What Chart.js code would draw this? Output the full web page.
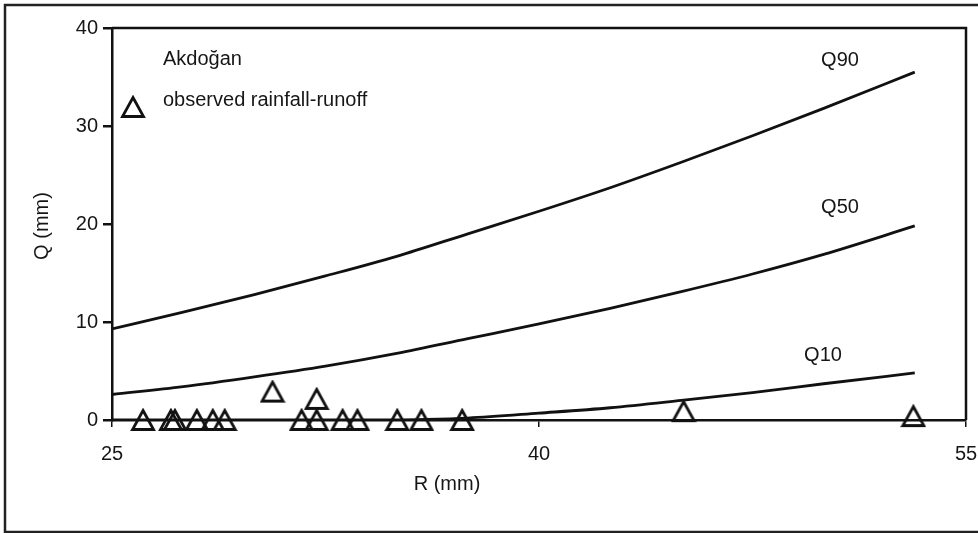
<!DOCTYPE html>
<html>
<head>
<meta charset="utf-8">
<script src="https://cdn.jsdelivr.net/npm/chart.js@4/dist/chart.umd.min.js"></script>
<style>
  html, body { margin: 0; padding: 0; background: #fff; }
  #wrap { width: 978px; height: 533px; position: relative; }
</style>
</head>
<body>
<div id="wrap"><canvas id="c" width="978" height="533"></canvas></div>
<script>
// ---- data ----
const curveR = [25, 27.5, 30, 32.5, 35, 37.5, 40, 42.5, 45, 47.5, 50, 53.2];
const q90 = [9.3, 11.0, 12.8, 14.7, 16.7, 19.0, 21.3, 23.7, 26.3, 29.0, 31.8, 35.5];
const q50 = [2.6, 3.4, 4.4, 5.5, 6.8, 8.3, 9.8, 11.4, 13.1, 14.9, 16.9, 19.8];
const q10R = [25, 30, 35, 36, 37.5, 40, 42.5, 45, 47.5, 50, 53.2];
const q10 = [0, 0, 0, 0.05, 0.2, 0.7, 1.25, 2.0, 2.8, 3.7, 4.8];
const obsR = [26.09, 27.07, 27.21, 27.98, 28.54, 28.96, 30.64, 31.66, 32.19, 32.19, 33.10, 33.62, 35.02, 35.87, 37.30, 45.08, 53.15];
const obsQ = [0, 0, 0, 0, 0, 0, 2.9, 0, 2.15, 0, 0, 0, 0, 0, 0, 0.9, 0.4];
const xTicks = [25, 40, 55];
const yTicks = [0, 10, 20, 30, 40];
const curveNames = ['Q90', 'Q50', 'Q10'];

const INK = '#111';
const TXT = '#161616';
const FONT = '"Liberation Sans", Arial, sans-serif';
const FS = 20;

function makeTriangle() {
  const c = document.createElement('canvas');
  c.width = 26; c.height = 24;
  const g = c.getContext('2d');
  g.strokeStyle = INK;
  g.lineWidth = 2.8;
  g.lineJoin = 'miter';
  g.beginPath();
  g.moveTo(13, 2.5);
  g.lineTo(23.5, 21.5);
  g.lineTo(2.5, 21.5);
  g.closePath();
  g.stroke();
  return c;
}
const tri = makeTriangle();

const pts = (xs, ys) => xs.map((x, i) => ({ x: x, y: ys[i] }));

const lineDs = (label, xs, ys) => ({
  type: 'line', label: label, data: pts(xs, ys),
  borderColor: INK, borderWidth: 2.8, pointRadius: 0,
  cubicInterpolationMode: 'monotone', fill: false
});

const annot = {
  id: 'annot',
  beforeDraw(chart) {
    const ctx = chart.ctx;
    ctx.save();
    ctx.fillStyle = '#fff';
    ctx.fillRect(0, 0, chart.width, chart.height);
    ctx.strokeStyle = '#222';
    ctx.lineWidth = 2.5;
    ctx.strokeRect(5, 5, 1000, 527);
    ctx.restore();
  },
  afterDraw(chart) {
    const ctx = chart.ctx;
    const a = chart.chartArea;
    ctx.save();
    // top and right frame
    ctx.strokeStyle = INK;
    ctx.lineWidth = 2.5;
    ctx.beginPath();
    ctx.moveTo(a.left, a.top);
    ctx.lineTo(a.right, a.top);
    ctx.lineTo(a.right, a.bottom);
    ctx.stroke();

    ctx.fillStyle = TXT;
    ctx.font = FS + 'px ' + FONT;
    ctx.textBaseline = 'middle';
    // curve labels
    ctx.textAlign = 'center';
    ctx.fillText(curveNames[0], 840, 60);
    ctx.fillText(curveNames[1], 840, 207);
    ctx.fillText(curveNames[2], 823, 355);
    // legend
    ctx.textAlign = 'left';
    ctx.fillText('Akdoğan', 163, 59);
    ctx.fillText('observed rainfall-runoff', 163, 100);
    ctx.drawImage(tri, 133 - tri.width / 2, 107 - tri.height / 2);
    // axis titles
    ctx.textAlign = 'center';
    ctx.fillText('R (mm)', 447, 484);
    ctx.translate(42, 226);
    ctx.rotate(-Math.PI / 2);
    ctx.fillText('Q (mm)', 0, 0);
    ctx.restore();
  }
};

new Chart(document.getElementById('c'), {
  data: {
    datasets: [
      lineDs(curveNames[0], curveR, q90),
      lineDs(curveNames[1], curveR, q50),
      lineDs(curveNames[2], q10R, q10),
      {
        type: 'scatter', label: 'observed rainfall-runoff', data: pts(obsR, obsQ),
        pointStyle: tri, pointRadius: 11, showLine: false, clip: false
      }
    ]
  },
  options: {
    responsive: false,
    devicePixelRatio: 1,
    animation: false,
    layout: { padding: { top: 28, right: 11, left: 0, bottom: 0 } },
    plugins: { legend: { display: false }, tooltip: { enabled: false } },
    scales: {
      x: {
        type: 'linear', min: 25, max: 55,
        afterBuildTicks: s => { s.ticks = xTicks.map(v => ({ value: v })); },
        afterFit: s => { s.height = 113; s.paddingLeft = 0; s.paddingRight = 0; },
        ticks: { color: TXT, font: { family: FONT, size: FS }, padding: 15, maxRotation: 0 },
        grid: { drawOnChartArea: false, drawTicks: true, tickLength: 7, color: INK, lineWidth: 1.5 },
        border: { display: true, color: INK, width: 2.5 }
      },
      y: {
        type: 'linear', min: 0, max: 40,
        afterBuildTicks: s => { s.ticks = yTicks.map(v => ({ value: v })); },
        afterFit: s => { s.width = 112; s.paddingTop = 0; s.paddingBottom = 0; },
        ticks: { color: TXT, font: { family: FONT, size: FS }, padding: 5 },
        grid: { drawOnChartArea: false, drawTicks: true, tickLength: 9, color: INK, lineWidth: 2.5 },
        border: { display: true, color: INK, width: 2.5 }
      }
    }
  },
  plugins: [annot]
});
</script>
</body>
</html>
